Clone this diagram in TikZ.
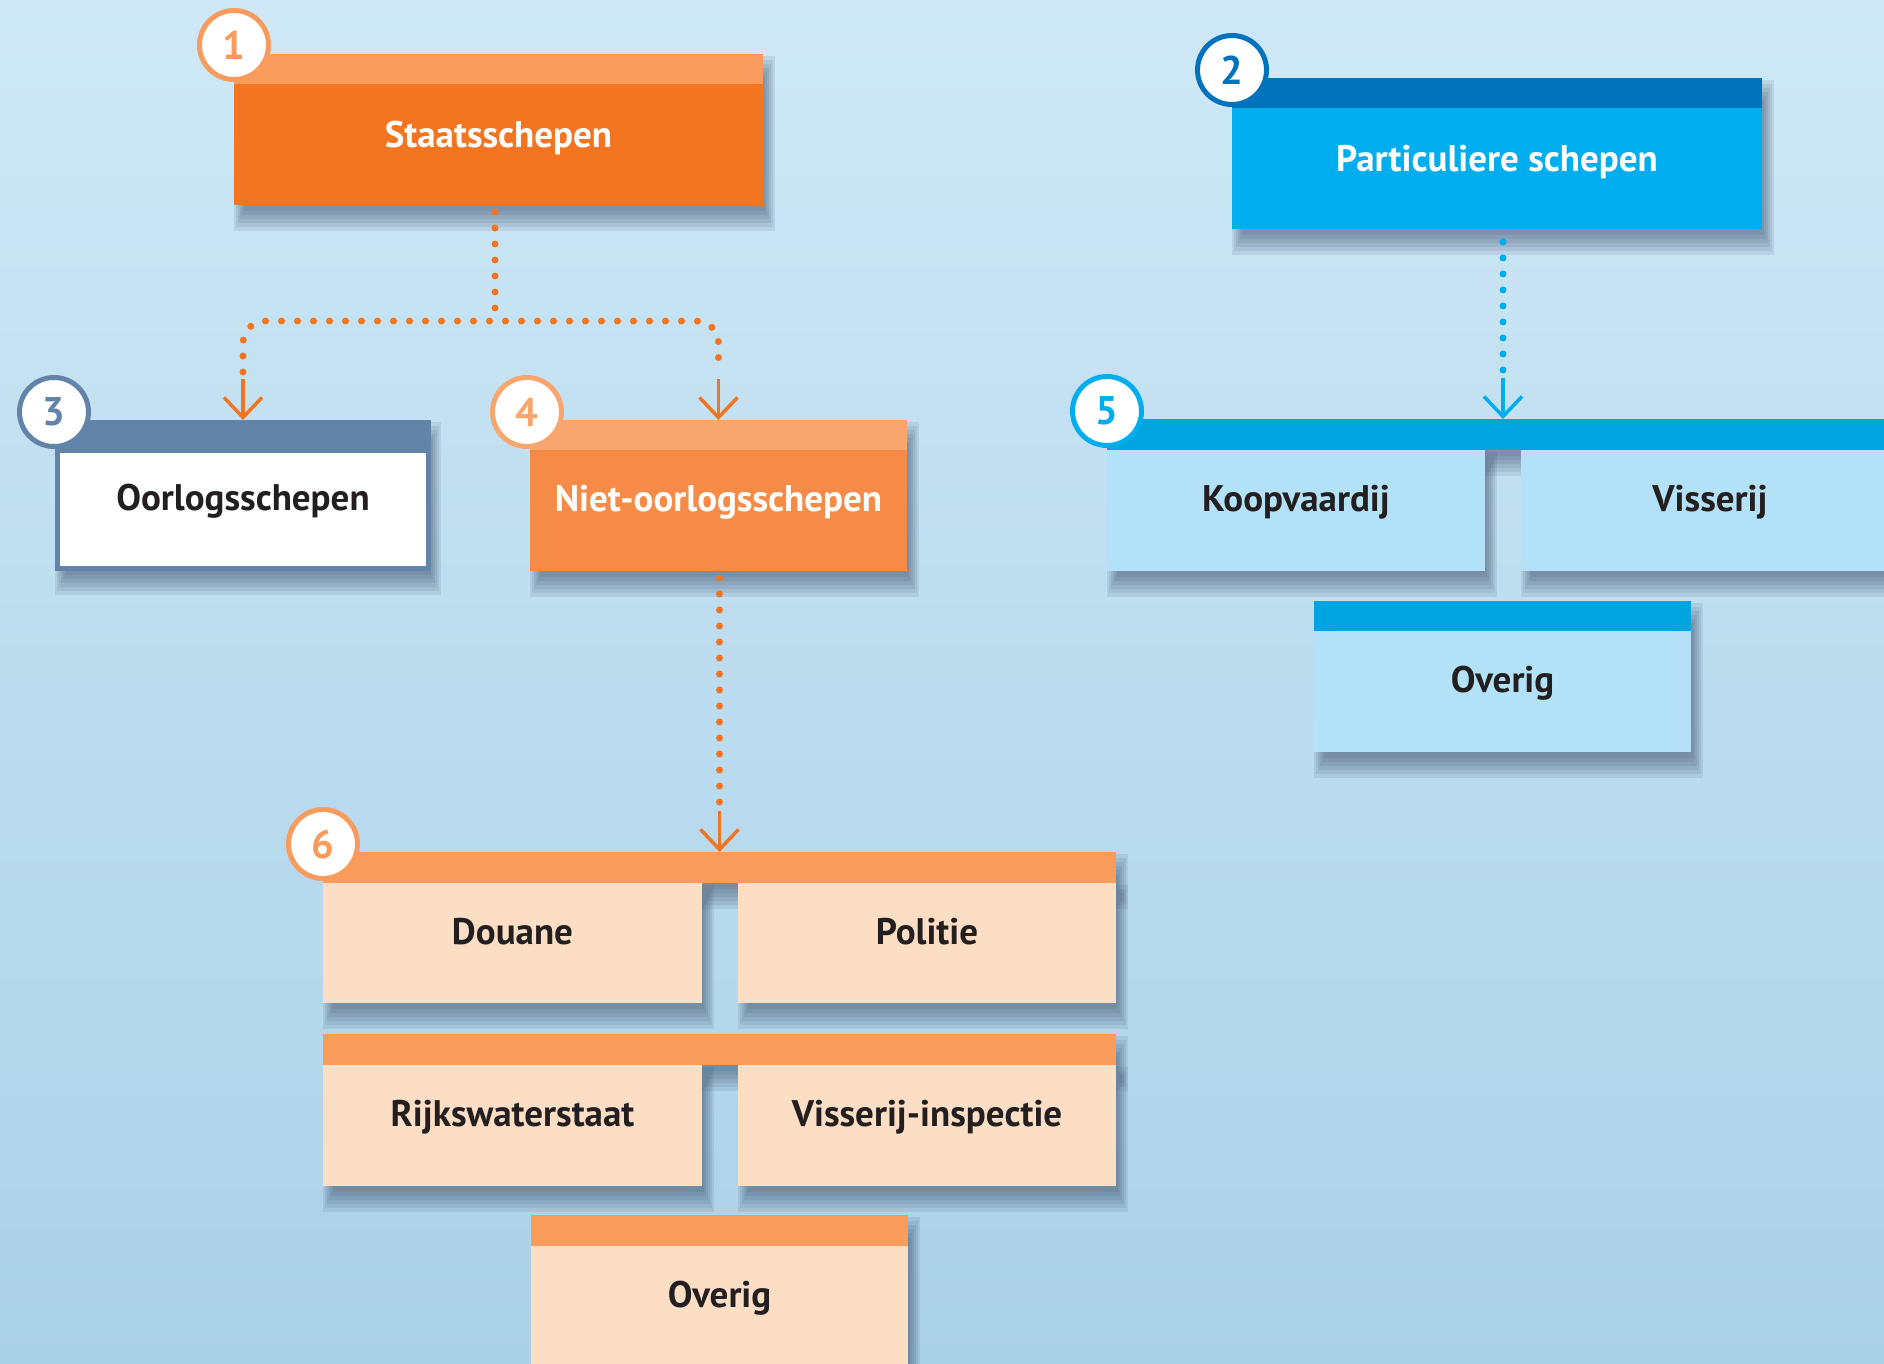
\documentclass[tikz,border=0pt]{standalone}
\usepackage{fontspec}
\setmainfont{PT Sans}
\usetikzlibrary{arrows.meta,calc}
\definecolor{bgtop}{RGB}{206,232,246}
\definecolor{bgbot}{RGB}{171,209,232}
\definecolor{shadowc}{RGB}{55,72,100}
\definecolor{orangemain}{RGB}{243,116,33}
\definecolor{orangebar}{RGB}{248,155,92}
\definecolor{nietbody}{RGB}{246,139,71}
\definecolor{nietbar}{RGB}{249,166,110}
\definecolor{gsixbar}{RGB}{248,155,91}
\definecolor{gsixbody}{RGB}{252,222,197}
\definecolor{cyanmain}{RGB}{0,174,239}
\definecolor{bluebar}{RGB}{0,114,188}
\definecolor{gfivebar}{RGB}{0,165,223}
\definecolor{gfivebody}{RGB}{179,226,248}
\definecolor{steel}{RGB}{98,132,168}
\definecolor{textdark}{RGB}{35,31,32}
\pgfdeclarelayer{bg}
\pgfsetlayers{bg,main}
\newcommand\boxshadow[2]{%
  \begin{pgfonlayer}{bg}
    \foreach \gx/\gy in {6/12,4/8,2/4,0/0,-2/-4,-4/-8}{
      \fill[shadowc, opacity=0.11] ($(#1)+(6-\gx,14-\gy)$) rectangle ($(#2)+(6+\gx,14+\gy)$);
    }
  \end{pgfonlayer}}
\begin{document}
\begin{tikzpicture}[x=1pt,y=-1pt,
  blk/.style={rectangle, inner sep=0pt, outer sep=0pt, anchor=north west},
  lbl/.style={font=\bfseries\fontsize{37}{42}\selectfont, text height=0.75em, text depth=0.5em},
  lbltop/.style={font=\bfseries\fontsize{37}{42}\selectfont, text height=0.75em, text depth=0.05em},
  num/.style={circle, draw=#1, line width=5pt, fill=white, minimum size=69pt, inner sep=0pt,
              text=#1, font=\bfseries\fontsize{40}{42}\selectfont},
  odots/.style={draw=orangemain, line width=7pt, line cap=round, dash pattern=on 0pt off 16pt},
  bdots/.style={draw=cyanmain, line width=7pt, line cap=round, dash pattern=on 0pt off 16pt},
  oarrow/.style={draw=orangemain, line width=3.5pt, -{Straight Barb[length=20pt,width=38pt,line width=3.5pt]}},
  barrow/.style={draw=cyanmain, line width=3.5pt, -{Straight Barb[length=20pt,width=38pt,line width=3.5pt]}}
]
\useasboundingbox (0,0) rectangle (1884,1364);
\begin{pgfonlayer}{bg}
  \fill[top color=bgtop, bottom color=bgbot] (0,0) rectangle (1884,1364);
\end{pgfonlayer}

% 1 Staatsschepen
\node[blk, fill=orangebar, minimum width=529pt, minimum height=30pt] (bar1) at (234,54) {};
\node[blk, lbltop, fill=orangemain, text=white, minimum width=529pt, minimum height=121pt] (b1) at (234,84) {Staatsschepen};
\boxshadow{bar1.north west}{b1.south east}

% 2 Particuliere schepen
\node[blk, fill=bluebar, minimum width=530pt, minimum height=30pt] (bar2) at (1232,78) {};
\node[blk, lbltop, fill=cyanmain, text=white, minimum width=530pt, minimum height=121pt] (b2) at (1232,108) {Particuliere schepen};
\boxshadow{bar2.north west}{b2.south east}

% 3 Oorlogsschepen
\node[blk, lbl, fill=white, draw=steel, line width=5pt, text=textdark, minimum width=371pt, minimum height=118.5pt] (b3) at (57.5,450) {Oorlogsschepen};
\node[blk, fill=steel, minimum width=376pt, minimum height=30pt] (bar3) at (55,420) {};
\boxshadow{bar3.north west}{b3.south east}

% 4 Niet-oorlogsschepen
\node[blk, fill=nietbar, minimum width=377pt, minimum height=30pt] (bar4) at (530,420) {};
\node[blk, lbl, fill=nietbody, text=white, minimum width=377pt, minimum height=121pt] (b4) at (530,450) {Niet-oorlogsschepen};
\boxshadow{bar4.north west}{b4.south east}

% 5 group
\node[blk, fill=gfivebar, minimum width=792pt, minimum height=31pt] (bar5) at (1107,419) {};
\node[blk, lbl, fill=gfivebody, text=textdark, minimum width=378pt, minimum height=121pt] (koop) at (1107,450) {Koopvaardij};
\node[blk, lbl, fill=gfivebody, text=textdark, minimum width=378pt, minimum height=121pt] (viss) at (1521,450) {Visserij};
\node[blk, fill=gfivebar, minimum width=377pt, minimum height=30pt] (bar5b) at (1314,601) {};
\node[blk, lbl, fill=gfivebody, text=textdark, minimum width=377pt, minimum height=121pt] (ovfive) at (1314,631) {Overig};
\boxshadow{bar5.north west}{bar5.south east}
\boxshadow{koop.north west}{koop.south east}
\boxshadow{viss.north west}{viss.south east}
\boxshadow{bar5b.north west}{ovfive.south east}

% 6 group
\node[blk, fill=gsixbar, minimum width=793pt, minimum height=31pt] (bar6) at (323,852) {};
\node[blk, lbl, fill=gsixbody, text=textdark, minimum width=379pt, minimum height=120pt] (douane) at (323,883) {Douane};
\node[blk, lbl, fill=gsixbody, text=textdark, minimum width=378pt, minimum height=120pt] (politie) at (738,883) {Politie};
\node[blk, fill=gsixbar, minimum width=793pt, minimum height=31pt] (bar6b) at (323,1034) {};
\node[blk, lbl, fill=gsixbody, text=textdark, minimum width=379pt, minimum height=121pt] (rijk) at (323,1065) {Rijkswaterstaat};
\node[blk, lbl, fill=gsixbody, text=textdark, minimum width=378pt, minimum height=121pt] (vissi) at (738,1065) {Visserij-inspectie};
\node[blk, fill=gsixbar, minimum width=377pt, minimum height=31pt] (bar6c) at (531,1215) {};
\node[blk, lbl, fill=gsixbody, text=textdark, minimum width=377pt, minimum height=121pt] (ovsix) at (531,1246) {Overig};
\boxshadow{bar6.north west}{bar6.south east}
\boxshadow{douane.north west}{douane.south east}
\boxshadow{politie.north west}{politie.south east}
\boxshadow{bar6b.north west}{bar6b.south east}
\boxshadow{rijk.north west}{rijk.south east}
\boxshadow{vissi.north west}{vissi.south east}
\boxshadow{bar6c.north west}{ovsix.south east}

% number circles
\node[num=orangebar] (c1) at (234,45) {1};
\node[num=bluebar] (c2) at (1232,70) {2};
\node[num=steel] (c3) at (54,412) {3};
\node[num=nietbar] (c4) at (527,412) {4};
\node[num=cyanmain] (c5) at (1107,411) {5};
\node[num=gsixbar] (c6) at (323,844) {6};

% connectors
\coordinate (split) at (495,321);
\coordinate (a3) at ($(bar3.north)+(0,-48)$);
\coordinate (a4) at ($(bar4.north)+(0,-48)$);
\draw[odots, shorten <=7pt] (split |- b1.south) -- (split);
\draw[odots, rounded corners=22pt] (a3) |- (split) -| (a4);
\draw[oarrow] ($(bar3.north)+(0,-41)$) -- (bar3.north);
\draw[oarrow] ($(bar4.north)+(0,-41)$) -- (bar4.north);

\coordinate (a6) at ($(bar6.north)+(0,-41)$);
\draw[odots, shorten <=7pt, shorten >=3pt] (b4.south -| bar6.north) -- ($(bar6.north)+(0,-44)$);
\draw[oarrow] (a6) -- (bar6.north);

\coordinate (a5) at ($(bar5.north)+(0,-41)$);
\draw[bdots, shorten <=13pt, shorten >=3pt] (b2.south -| bar5.north) -- ($(bar5.north)+(0,-44)$);
\draw[barrow] (a5) -- (bar5.north);
\end{tikzpicture}
\end{document}
